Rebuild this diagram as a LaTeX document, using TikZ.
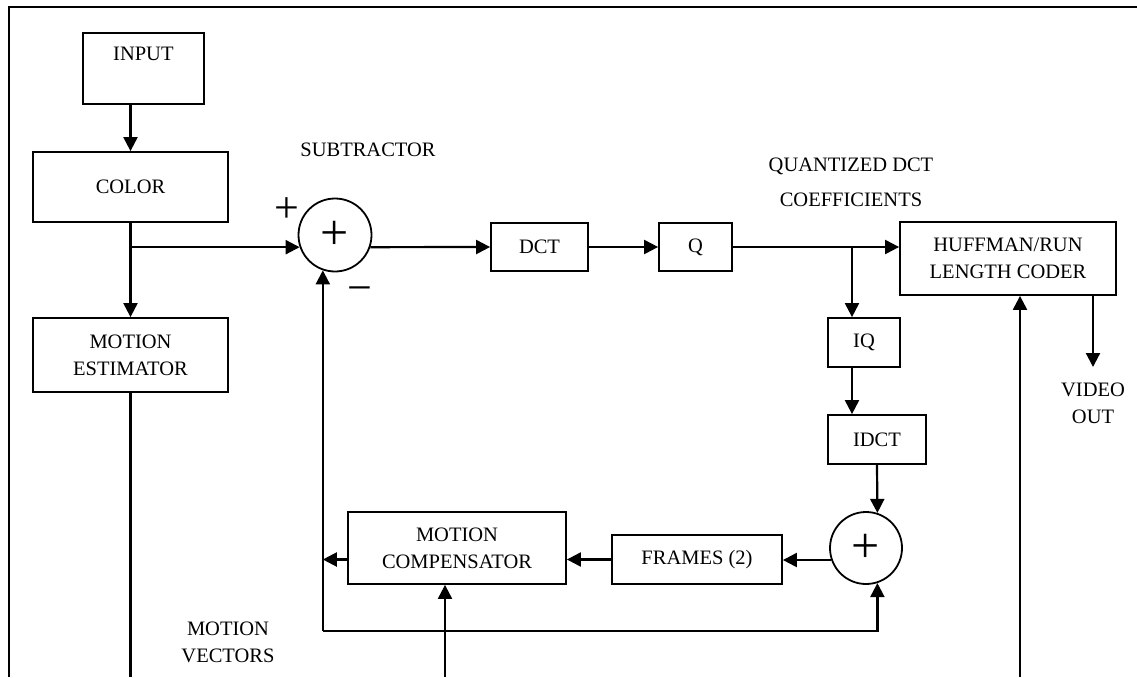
\documentclass[tikz,border=0pt]{standalone}
\usepackage{fontspec}
\setmainfont{Liberation Serif}
\usetikzlibrary{arrows.meta, positioning, calc}

\tikzset{
  blk/.style={draw, line width=1.8pt, inner sep=0pt, align=center},
  sumnode/.style={draw, circle, line width=1.8pt, inner sep=0pt, minimum size=73pt, font=\fontsize{50}{50}\selectfont},
  sgn/.style={font=\fontsize{44}{44}\selectfont, inner sep=0pt},
  lbl/.style={align=center, inner sep=0pt},
  wire/.style={line width=2.2pt},
  arr/.style={wire, -{Triangle[length=14pt, width=14pt]}},
}

\begin{document}
\begin{tikzpicture}[x=1pt, y=-1pt, font=\fontsize{20.5}{27}\selectfont]
\useasboundingbox (0,0) rectangle (1137,677);
% outer frame, top and left side only
\draw[wire] (9,677) -- (9,7) -- (1137,7);

% --- forward path ---
\node[blk, anchor=north west, minimum width=121pt, text height=28pt, text depth=43pt] (input) at (82,32) {INPUT};
\node[blk, minimum width=195pt, minimum height=70pt] (color) at (130.5,187) {COLOR};
\node[blk, minimum width=195pt, minimum height=74pt] (motest) at (130.5,355) {MOTION\\ESTIMATOR};
\node[sumnode] (sub) at (335,235) {+};
\node[blk, minimum width=97pt, minimum height=48pt] (dct) at (539.5,247) {DCT};
\node[blk, minimum width=73pt, minimum height=48pt] (quant) at (695.5,247) {Q};
\node[blk, minimum width=216pt, minimum height=73pt] (huff) at (1008,258.5) {HUFFMAN/RUN\\LENGTH CODER};

% --- reconstruction loop ---
\node[blk, minimum width=72pt, minimum height=49pt] (iq) at (864,342.5) {IQ};
\node[blk, minimum width=98pt, minimum height=49pt] (idct) at (877,439.5) {IDCT};
\node[sumnode, minimum size=72pt] (add) at (866,548) {+};
\node[blk, minimum width=170pt, minimum height=49pt] (frames) at (697,559.5) {FRAMES (2)};
\node[blk, minimum width=218pt, minimum height=72pt] (motcomp) at (457,548) {MOTION\\COMPENSATOR};

% --- labels ---
\node[lbl] (sublbl) at (368,150) {SUBTRACTOR};
\node[lbl] (qdct) at (851,182.5) {QUANTIZED DCT\\[8pt]COEFFICIENTS};
\node[lbl, anchor=north, inner ysep=16pt] (vout) at (1093,367) {VIDEO\\OUT};
\node[lbl] (mvlbl) at (228,642.5) {MOTION\\VECTORS};
\node[sgn] (plus) at (287,210) {+};
\node[sgn] (minus) at (360,295) {−};

% --- connectors ---
\coordinate (csplit) at (color.south |- sub.199);
\coordinate (qsplit) at (852,247);
\coordinate (loopL) at (sub.-109 |- 0,631);
\coordinate (loopR) at (add.-72 |- 0,631);
\coordinate (meout) at (132,677);
\coordinate (mvin) at (445,677);
\coordinate (hin) at (1020,677);

\draw[arr] (color.north |- input.south) -- (color.north);
\draw[arr] (color) -- (motest);
\draw[arr] (csplit) -- (sub.199);
\draw[arr] (sub.-19) -- (dct.west);
\draw[arr] (dct) -- (quant);
\draw[arr] (quant.east) -- (quant.east -| huff.west);
\draw[arr] (qsplit) -- (qsplit |- iq.north);
\draw[arr] (qsplit |- iq.south) -- (qsplit |- idct.north);
\draw[arr] (idct.south) -- (add.72);
\draw[arr] (add.199) -- (add.199 -| frames.east);
\draw[arr] (frames.west) -- (frames.west -| motcomp.east);
\draw[arr] (frames.west -| motcomp.west) -- (frames.west -| loopL);
\draw[arr] (loopL) -- (sub.-109);
\draw[arr] (loopL) -- (loopR) -- (add.-72);
\draw[wire] (motest.south) -- (motest.south |- meout);
\draw[arr] (mvin) -- (mvin |- motcomp.south);
\draw[arr] (hin) -- (hin |- huff.south);
\draw[arr] (huff.south -| vout.north) -- (vout.north);
\end{tikzpicture}
\end{document}
